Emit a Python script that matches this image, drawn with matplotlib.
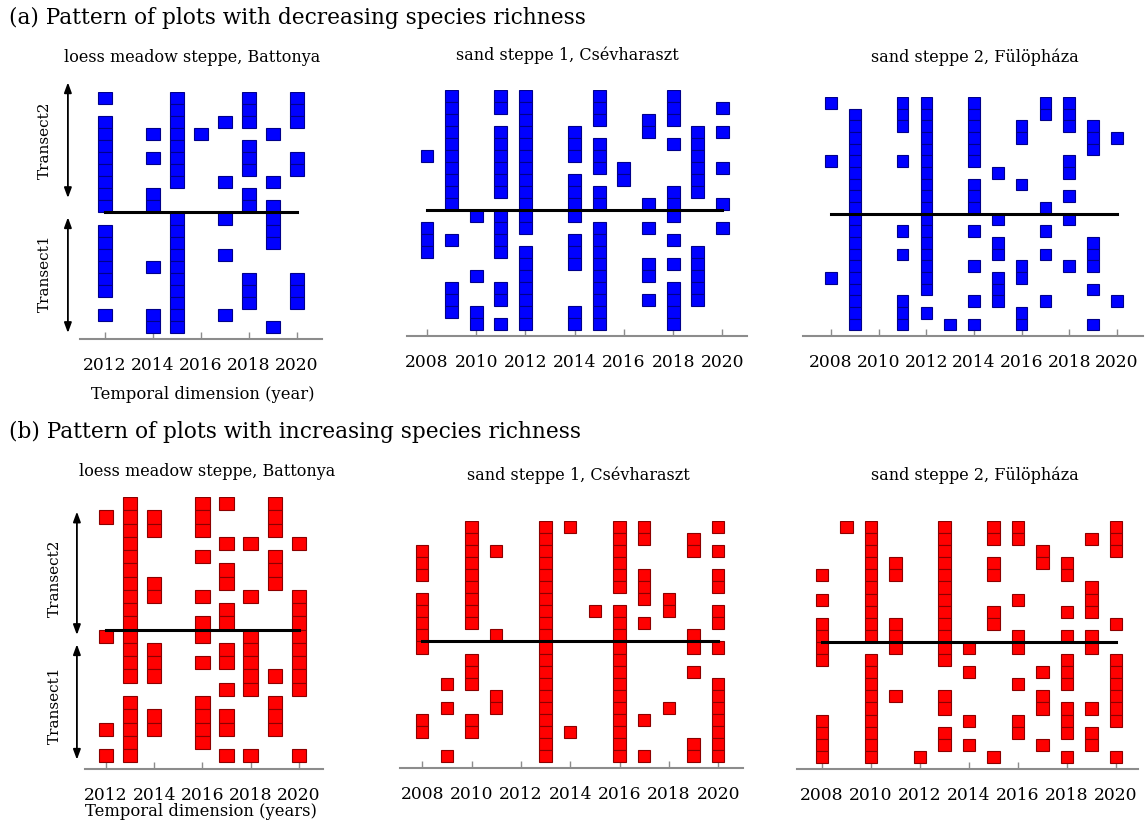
import matplotlib.pyplot as plt

plt.rcParams['font.family'] = 'DejaVu Serif'

W, H = 1148, 834

# Sampling years of each site
years_battonya = [2012, 2013, 2014, 2015, 2016, 2017, 2018, 2019, 2020]
years_csevharaszt = [2008, 2009, 2010, 2011, 2012, 2013, 2014,
                     2015, 2016, 2017, 2018, 2019, 2020]
years_fulophaza = [2008, 2009, 2010, 2011, 2012, 2013, 2014,
                   2015, 2016, 2017, 2018, 2019, 2020]

# Occurrence of the species in the 20 plots (top line = plot 20 of
# transect 2, bottom line = plot 1 of transect 1), one column per year
dec_battonya = [
    "#..#..#.#",
    "...#..#.#",
    "#..#.##.#",
    "#.###..#.",
    "#..#..#..",
    "#.##..#.#",
    "#..#..#.#",
    "#..#.#.#.",
    "#.#...#..",
    "#.#...##.",
    "...#.#.#.",
    "#..#...#.",
    "#..#...#.",
    "#..#.#...",
    "#.##.....",
    "#..#..#.#",
    "#..#..#.#",
    "...#..#.#",
    "#.##.#...",
    "..##...#.",
]

dec_csevharaszt = [
    ".#.##..#..#..",
    ".#.##..#..#.#",
    ".#..#..#.##..",
    ".#.##.#..#.##",
    ".#.##.##..##.",
    "##.##.##...#.",
    ".#.##..##..##",
    ".#.##.#.#..#.",
    ".#.##.##..##.",
    ".#..#.##.##.#",
    "..###.#...#..",
    "#..##..#.#..#",
    "##.#..##..#..",
    "#..##.##...#.",
    "....#.##.###.",
    "..#.#..#.#.#.",
    ".#.##..#..##.",
    ".#.##..#.###.",
    ".##.#.##..#..",
    "..###.##..#..",
]

dec_fulophaza = [
    "#..##.#..##..",
    ".#.##.#..##..",
    ".#.##.#.#.##.",
    ".#..#.#.#..##",
    ".#..#.#....#.",
    "##.##.#...#..",
    ".#..#..#..#..",
    ".#..#.#.#....",
    ".#..#.#...#..",
    ".#..#.#..#...",
    ".#..#..#..#..",
    ".#.##.#..#...",
    ".#..#..#...#.",
    ".#.##..#.#.#.",
    ".#..#.#.#.##.",
    "##..#..##....",
    ".#..#..#...#.",
    ".#.#..##.#..#",
    ".#.##...#....",
    ".#.#.##.#..#.",
]

inc_battonya = [
    ".#..##.#.",
    "###.#..#.",
    ".##.#..#.",
    ".#...##.#",
    ".#..#..#.",
    ".#...#.#.",
    ".##..#.#.",
    ".##.#.#.#",
    ".#...#..#",
    ".#..##..#",
    "##..#.#.#",
    ".##..##.#",
    ".##.###.#",
    ".##...###",
    ".....##.#",
    ".#..#..#.",
    ".##.##.#.",
    "###.##.#.",
    ".#..#....",
    "##...##.#",
]

inc_csevharaszt = [
    "..#..##.##..#",
    "..#..#..##.#.",
    "#.##.#..#..##",
    "#.#..#..#....",
    "#.#..#..##..#",
    "..#..#..##..#",
    "#.#..#...##..",
    "#.#..#.##.#.#",
    "#.#..#..##..#",
    "#..#.#..#..#.",
    "#....#..#..##",
    "..#..#..#....",
    "..#..#..#..#.",
    ".##..#..#...#",
    "...#.#..#...#",
    ".#.#.#..#.#.#",
    "#.#..#..##..#",
    "#.#..##.#...#",
    ".....#..#..##",
    ".#...#..##.##",
]

inc_fulophaza = [
    ".##..#.##...#",
    "..#..#.##..##",
    "..#..#...#..#",
    "..##.#.#.##..",
    "#.##.#.#..#..",
    "..#..#.....#.",
    "#.#..#..#..#.",
    "..#..#.#..##.",
    "#.##.#.#....#",
    "#.##.#..#.##.",
    "#..#.##.#..#.",
    "#.#..#....#.#",
    "..#...#..##.#",
    "..#.....#.#.#",
    "..##.#...#..#",
    "..#..#...####",
    "#.#...#.#.#.#",
    "#.#..#..#.##.",
    "#.#..##..#.#.",
    "#.#.#..#..#.#",
]

BLUE, BLUE_EDGE = '#0000ff', '#00008b'
RED, RED_EDGE = '#ff0000', '#8b0000'
GREY = '#8c8c8c'

fig = plt.figure(figsize=(W / 100, H / 100), dpi=100)


def add_panel(box, xlim, years, grid, face, edge, width=0.52):
    """box = (left, right, top, bottom) in pixels; bottom is the axis line"""
    x0, x1, y_top, y_bot = box
    ax = fig.add_axes([x0 / W, 1 - y_bot / H, (x1 - x0) / W, (y_bot - y_top) / H])
    n = len(grid)
    xs, ys = [], []
    for i, line in enumerate(grid):
        for year, cell in zip(years, line):
            if cell == '#':
                xs.append(year)
                ys.append(n - 1 - i)
    ax.bar(xs, 1, bottom=ys, width=width, color=face, edgecolor=edge,
           linewidth=0.8, zorder=2)
    # border between the two transects
    ax.plot([years[0], years[-1]], [n / 2, n / 2], color='black', lw=2.2, zorder=3)

    ax.set_xlim(*xlim)
    ax.set_ylim(-0.5, n)
    for side in ['top', 'right', 'left']:
        ax.spines[side].set_visible(False)
    ax.spines['bottom'].set_color(GREY)
    ax.spines['bottom'].set_linewidth(1.5)
    ax.set_yticks([])
    ax.set_xticks(years[::2])
    ax.tick_params(axis='x', direction='in', length=5, width=1, color=GREY,
                   pad=13, labelsize=12.3)
    return ax


def add_transects(ax, x, upper, lower):
    trans = ax.get_yaxis_transform()
    for y0, y1 in (upper, lower):
        ax.annotate('', xy=(x, y1), xytext=(x, y0), xycoords=trans,
                    textcoords=trans, annotation_clip=False,
                    arrowprops=dict(arrowstyle='<|-|>,head_length=0.6,head_width=0.22',
                                    color='black', lw=1.3, shrinkA=0, shrinkB=0))


def fig_text(x, y, s, **kw):
    fig.text(x / W, 1 - y / H, s, ha='center', va='center', **kw)


# (a) decreasing species richness
ax = add_panel((80, 322, 92, 339), (2010.96, 2021.04), years_battonya,
               dec_battonya, BLUE, BLUE_EDGE, width=0.55)
add_transects(ax, -0.05, (11.2, 20.8), (0, 9.6))
add_panel((407, 747, 90, 336), (2007.19, 2021.0), years_csevharaszt,
          dec_csevharaszt, BLUE, BLUE_EDGE)
add_panel((803, 1143, 97, 336), (2006.82, 2021.1), years_fulophaza,
          dec_fulophaza, BLUE, BLUE_EDGE, width=0.49)

# (b) increasing species richness
ax = add_panel((85, 323, 497, 769), (2011.13, 2021.0), years_battonya,
               inc_battonya, RED, RED_EDGE, width=0.6)
add_transects(ax, -0.034, (9.6, 18.9), (0.2, 8.9))
add_panel((400, 743, 521, 768), (2007.1, 2021.0), years_csevharaszt,
          inc_csevharaszt, RED, RED_EDGE, width=0.5)
add_panel((797, 1138, 521, 769), (2006.98, 2020.9), years_fulophaza,
          inc_fulophaza, RED, RED_EDGE)

fig.text(9 / W, 1 - 18 / H, '(a) Pattern of plots with decreasing species richness',
         ha='left', va='center', fontsize=15.6)
fig.text(9 / W, 1 - 432 / H, '(b) Pattern of plots with increasing species richness',
         ha='left', va='center', fontsize=15.6)

for x, y, s in [(192, 58, 'loess meadow steppe, Battonya'),
                (567, 55, 'sand steppe 1, Csévharaszt'),
                (975, 57, 'sand steppe 2, Fülöpháza'),
                (207, 472, 'loess meadow steppe, Battonya'),
                (578, 475, 'sand steppe 1, Csévharaszt'),
                (975, 475, 'sand steppe 2, Fülöpháza')]:
    fig_text(x, y, s, fontsize=11.5)

fig_text(203, 395, 'Temporal dimension (year)', fontsize=11.8)
fig_text(201, 812, 'Temporal dimension (years)', fontsize=11.8)

for x, y, s in [(45, 140, 'Transect2'), (45, 273, 'Transect1'),
                (55, 578, 'Transect2'), (55, 705, 'Transect1')]:
    fig_text(x, y, s, fontsize=11, rotation=90)

fig.savefig('out.png', dpi=100)
